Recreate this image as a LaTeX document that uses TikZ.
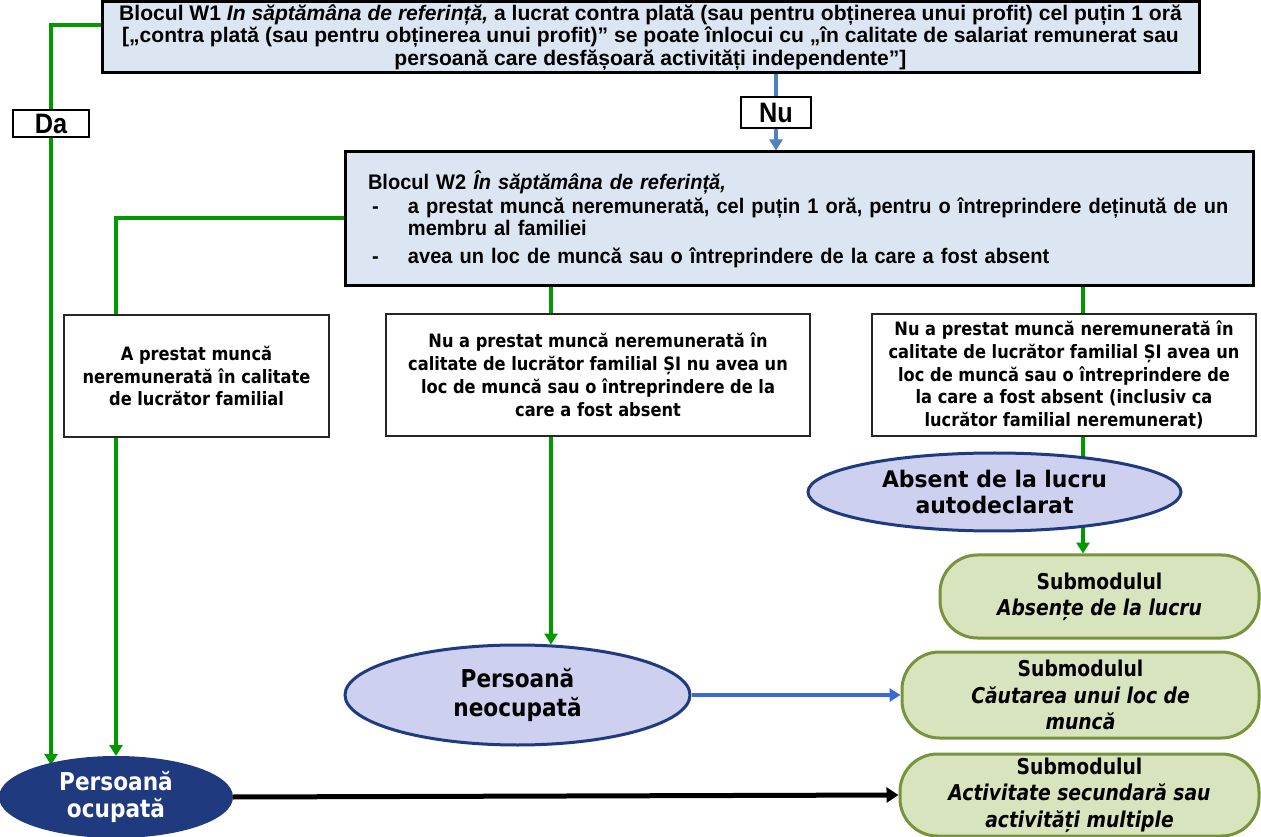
\documentclass[tikz,border=0pt]{standalone}
\usepackage{fontspec}
\setmainfont{Liberation Sans}
\newfontfamily\fa{Liberation Sans}
\newfontfamily\fe[FakeStretch=0.95]{Liberation Sans}
\newfontfamily\fl[FakeStretch=0.9]{Liberation Sans}
\newfontfamily\fb[FakeStretch=0.88]{DejaVu Sans}
\newfontfamily\fc[FakeStretch=0.96]{DejaVu Sans}
\newfontfamily\fs[FakeStretch=0.86]{DejaVu Sans}
\newfontfamily\fd[FakeStretch=0.88]{DejaVu Sans}
\usetikzlibrary{shapes.geometric,arrows.meta,calc}
\pgfdeclarelayer{bg}
\pgfsetlayers{bg,main}
\definecolor{boxblue}{HTML}{DCE6F2}
\definecolor{lav}{HTML}{CDD0EE}
\definecolor{navy}{HTML}{1F3A7E}
\definecolor{subfill}{HTML}{D7E4BD}
\definecolor{subdraw}{HTML}{77933C}
\definecolor{gline}{HTML}{009A00}
\definecolor{bline}{HTML}{4F81BD}
\definecolor{bline2}{HTML}{3A6AD4}
\newcommand\pxu{*0.02cm}
\tikzset{
  bigbox/.style={draw=black, line width=3\pxu, fill=boxblue, inner sep=0pt},
  midbox/.style={draw=black!85, line width=1.5\pxu, fill=white, inner sep=0pt, align=center,
    font=\fb\bfseries\fontsize{10.5}{13}\selectfont},
  lbl/.style={draw=black, line width=1.5\pxu, fill=white, inner sep=0pt,
    font=\fl\bfseries\fontsize{16}{18}\selectfont},
  lavell/.style={ellipse, draw=navy, line width=3\pxu, fill=lav, inner sep=0pt, align=center},
  subbox/.style={draw=subdraw, line width=3\pxu, fill=subfill, rounded corners=0.75cm,
    inner sep=0pt, align=center, font=\fs\bfseries\fontsize{12.4}{15}\selectfont},
  gconn/.style={draw=gline, line width=4\pxu},
  garrow/.style={gconn, -{Triangle[length=0.22cm,width=0.26cm]}},
  barrow/.style={draw=bline, line width=4\pxu, -{Triangle[length=0.22cm,width=0.26cm]}},
}
\begin{document}
\begin{tikzpicture}[x=0.02cm,y=-0.02cm]
\useasboundingbox (0,0) rectangle (1261,837);

\node[bigbox, minimum width=1097\pxu, minimum height=71\pxu, align=center,
      font=\fa\bfseries\fontsize{12}{12.8}\selectfont] (W1) at (650.5,37.5)
 {Blocul W1 \textit{In săptămâna de referință,} a lucrat contra plată (sau pentru obținerea unui profit) cel puțin 1 oră\\
 {[}„contra plată (sau pentru obținerea unui profit)” se poate înlocui cu „în calitate de salariat remunerat sau\\
 persoană care desfășoară activități independente”]};

\node[lbl, minimum width=76\pxu, minimum height=27\pxu] (da) at (51,123.5) {Da};
\node[lbl, minimum width=70\pxu, minimum height=31\pxu] (nu) at (776,112.5) {Nu};

\node[bigbox, minimum width=908\pxu, minimum height=134\pxu, text width=862*0.02cm,
      inner xsep=23\pxu, align=left, font=\fe\bfseries\fontsize{12}{12.8}\selectfont] (W2) at (799,219)
 {Blocul W2 \textit{În săptămâna de referință,}\\[1pt]
  \makebox[0.8cm][l]{\hspace{0.08cm}-}a prestat muncă neremunerată, cel puțin 1 oră, pentru o întreprindere deținută de un\\
  \hspace*{0.8cm}membru al familiei\\[3pt]
  \makebox[0.8cm][l]{\hspace{0.08cm}-}avea un loc de muncă sau o întreprindere de la care a fost absent};

\node[midbox, minimum width=265\pxu, minimum height=122\pxu] (A) at (196.5,376)
 {A prestat muncă\\neremunerată în calitate\\de lucrător familial};
\node[midbox, minimum width=424\pxu, minimum height=122\pxu] (B) at (598,375)
 {Nu a prestat muncă neremunerată în\\calitate de lucrător familial ȘI nu avea un\\loc de muncă sau o întreprindere de la\\care a fost absent};
\node[midbox, minimum width=384\pxu, minimum height=122\pxu] (C) at (1064,375)
 {Nu a prestat muncă neremunerată în\\calitate de lucrător familial ȘI avea un\\loc de muncă sau o întreprindere de\\la care a fost absent (inclusiv ca\\lucrător familial neremunerat)};

\node[lavell, minimum width=373\pxu, minimum height=78\pxu,
      font=\fc\bfseries\fontsize{13}{15.3}\selectfont] (abs) at (994.5,492)
 {Absent de la lucru\\autodeclarat};

\node[subbox, minimum width=319\pxu, minimum height=83\pxu] (sabs) at (1099.5,596.5)
 {Submodulul\\\textit{Absențe de la lucru}};

\node[lavell, minimum width=345\pxu, minimum height=100\pxu,
      font=\fd\bfseries\fontsize{14}{16}\selectfont] (neo) at (517.5,695)
 {Persoană\\neocupată};

\node[subbox, minimum width=357\pxu, minimum height=86\pxu] (scaut) at (1080.5,695)
 {Submodulul\\\textit{Căutarea unui loc de}\\\textit{muncă}};

\node[ellipse, draw=navy, line width=2\pxu, fill=navy, text=white, inner sep=0pt, align=center,
      minimum width=232\pxu, minimum height=80\pxu,
      font=\fd\bfseries\fontsize{14}{15.5}\selectfont] (ocup) at (116,797)
 {Persoană\\ocupată};

\node[subbox, minimum width=359\pxu, minimum height=82\pxu] (sact) at (1079.5,795)
 {Submodulul\\\textit{Activitate secundară sau}\\\textit{activități multiple}};

\coordinate (t1) at (51,765);
\coordinate (x3) at (551,0);
\coordinate (x4) at (1083,0);

\begin{pgfonlayer}{bg}
\draw[garrow] ($(W1.west)+(0,-12.5)$) -| (t1);
\draw[garrow] ($(W2.west)+(0,-1)$) -| (ocup.north);
\draw[garrow] (W2.south -| x3) -- ($(neo.north -| x3)+(0,1)$);
\draw[garrow] (W2.south -| x4) -- (sabs.north -| x4);
\draw[barrow] (W1.south -| nu) -- (W2.north -| nu);
\draw[draw=bline2, line width=4\pxu, -{Triangle[length=0.22cm,width=0.26cm]}] (neo.east) -- (scaut.west);
\draw[draw=black, line width=5\pxu, -{Triangle[length=0.24cm,width=0.3cm]}] (ocup.east) -- (sact.west);
\end{pgfonlayer}
\end{tikzpicture}
\end{document}
